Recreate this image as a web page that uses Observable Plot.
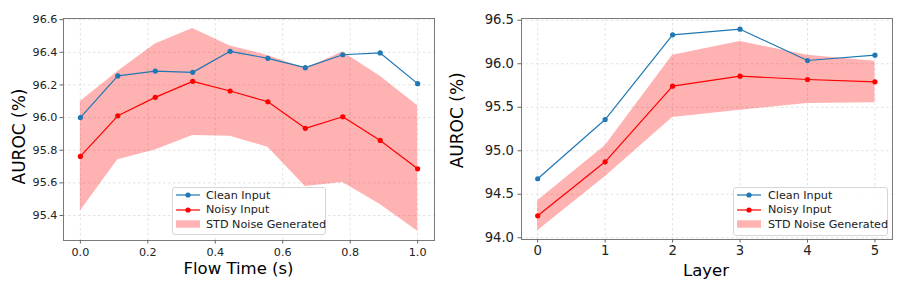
<!DOCTYPE html>
<html><head><meta charset="utf-8">
<script src="https://cdn.jsdelivr.net/npm/d3@7"></script>
<script src="https://cdn.jsdelivr.net/npm/@observablehq/plot@0.6"></script>
<style>
body{margin:0;background:#fff;font-family:"DejaVu Sans",sans-serif;}
#wrap{position:relative;width:897px;height:292px;overflow:hidden;}
.panel{position:absolute;top:0;}
.legend{position:absolute;border:1px solid #d6d6d6;border-radius:3px;background:rgba(255,255,255,0.85);box-sizing:border-box;font-size:11.2px;color:#222;}
.legend .row{position:absolute;left:0;height:14px;display:flex;align-items:center;white-space:nowrap;}
.legend svg{display:block;}
</style>
</head><body>
<div id="wrap">
  <div class="panel" id="left" style="left:0"></div>
  <div class="panel" id="right" style="left:450px"></div>
</div>
<script>
// ---- data ----
const seriesLabels = ["Clean Input", "Noisy Input", "STD Noise Generated"];

const flowTime  = [0.000, 0.111, 0.222, 0.333, 0.444, 0.556, 0.667, 0.778, 0.889, 1.000];
const flowClean = [96.000, 96.255, 96.285, 96.277, 96.406, 96.363, 96.306, 96.385, 96.396, 96.208];
const flowNoisy = [95.762, 96.011, 96.124, 96.222, 96.163, 96.097, 95.934, 96.005, 95.860, 95.686];
const flowUpper = [96.099, 96.283, 96.451, 96.545, 96.439, 96.381, 96.300, 96.402, 96.253, 96.073];
const flowLower = [95.427, 95.741, 95.801, 95.891, 95.885, 95.819, 95.578, 95.602, 95.468, 95.304];
const flowXTicks = [0.0, 0.2, 0.4, 0.6, 0.8, 1.0];
const flowYTicks = [95.4, 95.6, 95.8, 96.0, 96.2, 96.4, 96.6];

const layers     = [0, 1, 2, 3, 4, 5];
const layerClean = [94.678, 95.359, 96.332, 96.397, 96.037, 96.098];
const layerNoisy = [94.253, 94.873, 95.742, 95.857, 95.819, 95.792];
const layerUpper = [94.425, 95.057, 96.098, 96.255, 96.098, 96.029];
const layerLower = [94.080, 94.701, 95.382, 95.466, 95.543, 95.551];
const layerXTicks = [0, 1, 2, 3, 4, 5];
const layerYTicks = [94.0, 94.5, 95.0, 95.5, 96.0, 96.5];

const BLUE = "#1f77b4", RED = "#ff0000";

function panel(cfg) {
  const rows = cfg.x.map((x, i) => ({x, clean: cfg.clean[i], noisy: cfg.noisy[i], hi: cfg.upper[i], lo: cfg.lower[i]}));
  const gridStyle = {stroke: "#cfcfcf", strokeOpacity: 0.75, strokeWidth: 0.8, strokeDasharray: "2.5,2.5"};
  return Plot.plot({
    width: cfg.width, height: 292,
    marginLeft: cfg.ml, marginRight: cfg.mr, marginTop: 18, marginBottom: cfg.mb,
    x: {domain: cfg.xDomain},
    y: {domain: cfg.yDomain},
    style: {fontFamily: "DejaVu Sans", color: "#222", background: "transparent", overflow: "visible"},
    marks: [
      Plot.gridX(cfg.xTicks, gridStyle),
      Plot.gridY(cfg.yTicks, gridStyle),
      Plot.areaY(rows, {x: "x", y1: "lo", y2: "hi", fill: RED, fillOpacity: 0.3}),
      Plot.line(rows, {x: "x", y: "clean", stroke: BLUE, strokeWidth: 1.2}),
      Plot.dot(rows, {x: "x", y: "clean", fill: BLUE, r: 2.6}),
      Plot.line(rows, {x: "x", y: "noisy", stroke: RED, strokeWidth: 1.2}),
      Plot.dot(rows, {x: "x", y: "noisy", fill: RED, r: 2.6}),
      Plot.frame({stroke: "#7a7a7a", strokeWidth: 1}),
      Plot.axisX(cfg.xTicks, {tickSize: 3.5, tickPadding: cfg.xPad, fontSize: cfg.tickFont, tickFormat: cfg.xFormat, label: null, stroke: "#666", fill: "#222"}),
      Plot.axisY(cfg.yTicks, {tickSize: 3.5, tickPadding: cfg.yPad, fontSize: cfg.tickFont, tickFormat: d3.format(".1f"), label: null, stroke: "#666", fill: "#222"}),
      Plot.text([cfg.xLabel], {frameAnchor: "bottom", dx: cfg.xlDx, dy: cfg.xlDy, fontSize: cfg.xlFont, fill: "#000", textAnchor: "middle", lineAnchor: "middle"}),
      Plot.text([cfg.yLabel], {frameAnchor: "left", rotate: -90, dx: cfg.ylDx, dy: cfg.ylDy, fontSize: 17, fill: "#000", textAnchor: "middle", lineAnchor: "middle"})
    ]
  });
}

function legend(parent, pos) {
  const div = document.createElement("div");
  div.className = "legend";
  Object.assign(div.style, {left: pos.left + "px", top: pos.top + "px", width: pos.width + "px", height: pos.height + "px"});
  const kinds = [{type: "line", color: BLUE}, {type: "line", color: RED}, {type: "area"}];
  const offs = [8.0, 22.6, 37.4];
  kinds.forEach((k, i) => {
    const row = document.createElement("div");
    row.className = "row";
    row.style.top = (offs[i] - 7 - 1) + "px";
    row.style.left = pos.hx + "px";
    const sw = k.type === "line"
      ? `<svg width="24" height="14"><line x1="0" x2="24" y1="7" y2="7" stroke="${k.color}" stroke-width="1.2"/><circle cx="12" cy="7" r="2.6" fill="${k.color}"/></svg>`
      : `<svg width="24" height="14"><rect x="0" y="3.3" width="24" height="7.4" fill="${RED}" fill-opacity="0.3"/></svg>`;
    row.innerHTML = sw + `<span style="margin-left:${pos.gap}px">${seriesLabels[i]}</span>`;
    div.appendChild(row);
  });
  parent.appendChild(div);
}

const left = document.getElementById("left");
left.appendChild(panel({
  width: 450, ml: 63, mr: 16, mb: 52,
  x: flowTime, clean: flowClean, noisy: flowNoisy, upper: flowUpper, lower: flowLower,
  xDomain: [-0.05, 1.05], yDomain: [95.247, 96.607],
  xTicks: flowXTicks, yTicks: flowYTicks, xFormat: d3.format(".1f"),
  tickFont: 11.2, xPad: 4, yPad: 2.5,
  xLabel: "Flow Time (s)", xlDx: -10.5, xlDy: 28, xlFont: 16.5,
  yLabel: "AUROC (%)", ylDx: -43.7, ylDy: 7
}));
legend(left, {left: 172, top: 187, width: 154, height: 48, hx: 2.5, gap: 6.5});

const right = document.getElementById("right");
right.appendChild(panel({
  width: 447, ml: 71, mr: 5, mb: 53,
  x: layers, clean: layerClean, noisy: layerNoisy, upper: layerUpper, lower: layerLower,
  xDomain: [-0.24, 5.26], yDomain: [93.98, 96.52],
  xTicks: layerXTicks, yTicks: layerYTicks, xFormat: d3.format("d"),
  tickFont: 13.2, xPad: 3, yPad: 4,
  xLabel: "Layer", xlDx: -1, xlDy: 31, xlFont: 16.5,
  yLabel: "AUROC (%)", ylDx: -63.5, ylDy: -8.7
}));
legend(right, {left: 283, top: 187, width: 155, height: 49, hx: 3, gap: 7});
</script>
</body></html>
